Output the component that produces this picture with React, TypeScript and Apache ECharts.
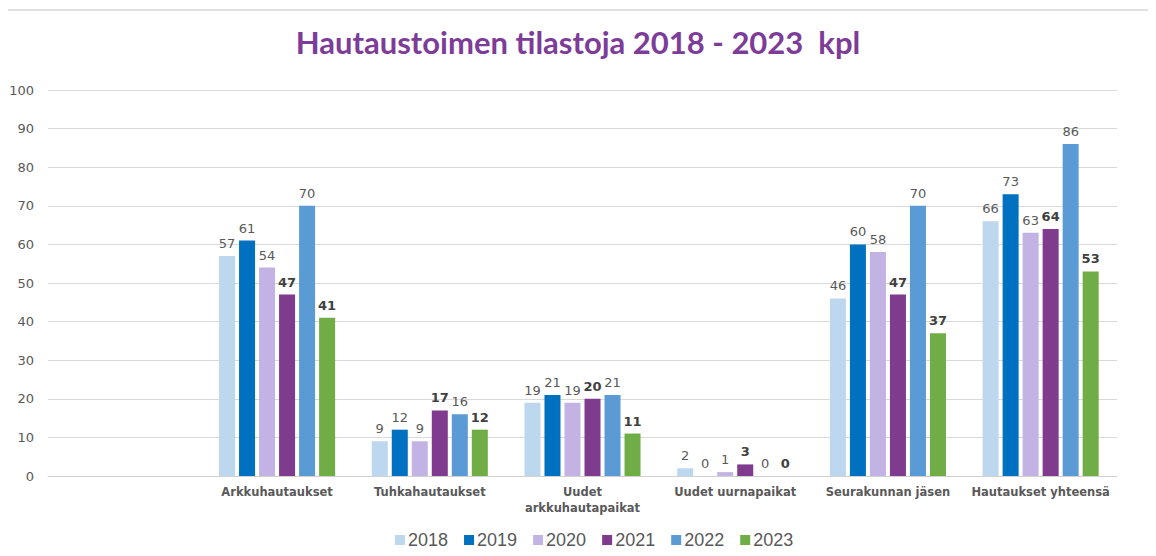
import React, { useEffect, useRef } from "react";
import * as echarts from "echarts";

const categories = ["", "Arkkuhautaukset", "Tuhkahautaukset", "Uudet\narkkuhautapaikat", "Uudet uurnapaikat", "Seurakunnan jäsen", "Hautaukset yhteensä"];
const years = ["2018", "2019", "2020", "2021", "2022", "2023"];
const v2018 = [null, 57, 9, 19, 2, 46, 66];
const v2019 = [null, 61, 12, 21, 0, 60, 73];
const v2020 = [null, 54, 9, 19, 1, 58, 63];
const v2021 = [null, 47, 17, 20, 3, 47, 64];
const v2022 = [null, 70, 16, 21, 0, 70, 86];
const v2023 = [null, 41, 12, 11, 0, 37, 53];
const colors = ["#BDD7EE", "#0070C0", "#C3B3E5", "#7F3B8E", "#5B9BD5", "#70AD47"];
const boldYears = [false, false, false, true, false, true];

export default function App() {
  const ref = useRef<HTMLDivElement>(null);
  useEffect(() => {
    const chart = echarts.init(ref.current!, null, { renderer: "svg" });
    const all = [v2018, v2019, v2020, v2021, v2022, v2023];
    chart.setOption({
      animation: false,
      backgroundColor: "#ffffff",
      title: {
        text: "Hautaustoimen tilastoja 2018 - 2023  kpl",
        left: "center",
        top: 21,
        textStyle: {
          fontFamily: "Lato, sans-serif",
          fontWeight: "bold",
          fontSize: 31,
          color: "#7D3C98",
        },
      },
      graphic: [
        {
          type: "rect",
          shape: { x: 6, y: 10, width: 1150, height: 560 },
          style: { fill: "none", stroke: "#e0e0e0", lineWidth: 2 },
          silent: true,
        },
      ],
      legend: {
        bottom: 2,
        left: 390,
        itemWidth: 10,
        itemHeight: 10,
        itemGap: 16,
        icon: "rect",
        textStyle: { fontFamily: "'Liberation Sans', Arial, sans-serif", fontSize: 18, color: "#595959", padding: [0, 0, 0, -2] },
        data: years,
      },
      grid: { left: 48, right: 39, top: 90, bottom: 80 },
      xAxis: {
        type: "category",
        data: categories,
        axisTick: { show: false },
        axisLine: { lineStyle: { color: "#d0d0d0" } },
        axisLabel: {
          interval: 0,
          fontFamily: "'DejaVu Sans', Verdana, sans-serif",
          fontWeight: "bold",
          fontSize: 11.5,
          color: "#595959",
          margin: 8,
          lineHeight: 16,
        },
      },
      yAxis: {
        type: "value",
        min: 0,
        max: 100,
        interval: 10,
        axisLine: { show: false },
        axisTick: { show: false },
        splitLine: { lineStyle: { color: "#d9d9d9" } },
        axisLabel: {
          fontFamily: "'DejaVu Sans', Verdana, sans-serif",
          fontSize: 13,
          color: "#595959",
          margin: 14,
        },
      },
      series: years.map((y, i) => ({
        name: y,
        type: "bar",
        data: all[i],
        barGap: "25%",
        barCategoryGap: "24%",
        itemStyle: { color: colors[i] },
        label: {
          show: true,
          position: "top",
          distance: 6,
          fontFamily: "'DejaVu Sans', Verdana, sans-serif",
          fontSize: 13,
          fontWeight: boldYears[i] ? "bold" : "normal",
          color: boldYears[i] ? "#404040" : "#595959",
        },
      })),
    });
    return () => chart.dispose();
  }, []);
  return <div ref={ref} style={{ width: 1156, height: 556, margin: -8 }} />;
}
